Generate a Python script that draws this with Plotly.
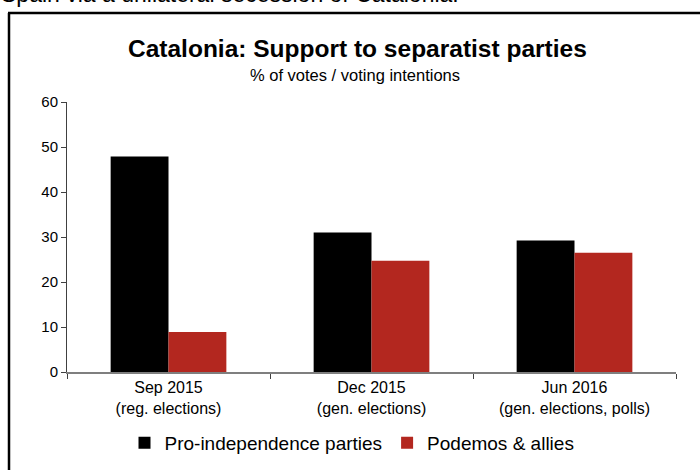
import plotly.graph_objects as go

categories = ["Sep 2015<br>(reg. elections)", "Dec 2015<br>(gen. elections)", "Jun 2016<br>(gen. elections, polls)"]
pro_independence = [47.9, 31.0, 29.2]
podemos = [8.9, 24.7, 26.5]
series_names = ["Pro-independence parties", "Podemos & allies"]
y_ticks = [0, 10, 20, 30, 40, 50, 60]

FONT = "Liberation Sans, Arial, sans-serif"

fig = go.Figure()
fig.add_trace(go.Bar(x=categories, y=pro_independence, name=series_names[0],
                     marker=dict(color="#000000", line=dict(width=0))))
fig.add_trace(go.Bar(x=categories, y=podemos, name=series_names[1],
                     marker=dict(color="#B3271F", line=dict(width=0))))

L, R, T, B = 67, 24, 102, 98
W, H = 700, 470
pw, ph = W - L - R, H - T - B

def px_x(px):
    return (px - L) / pw

def px_y(py):
    return (H - B - py) / ph

fig.update_layout(
    width=W, height=H,
    margin=dict(l=L, r=R, t=T, b=B, pad=0, autoexpand=False),
    paper_bgcolor="white", plot_bgcolor="white",
    font=dict(family=FONT, color="#000000", size=14),
    barmode="group", bargap=0.43, bargroupgap=0,
    showlegend=True,
    legend=dict(orientation="h", x=px_x(352), xanchor="center", y=px_y(443), yanchor="middle",
                font=dict(size=19, family=FONT), itemwidth=30, tracegroupgap=0,
                bgcolor="rgba(0,0,0,0)"),
    xaxis=dict(showgrid=False, showline=True, linecolor="#7f7f7f", linewidth=1.5,
               ticks="outside", tickson="boundaries", ticklen=5, tickcolor="#404040",
               tickfont=dict(size=16, family=FONT), zeroline=False),
    yaxis=dict(range=[0, 60], tickvals=y_ticks, showgrid=False, zeroline=False,
               showline=True, linecolor="#404040", linewidth=1,
               ticks="outside", ticklen=5, tickcolor="#404040",
               tickfont=dict(size=15, family=FONT)),
    annotations=[
        dict(text="<b>Catalonia: Support to separatist parties</b>", xref="paper", yref="paper",
             x=px_x(357), y=px_y(48), xanchor="center", yanchor="middle", showarrow=False,
             font=dict(size=24.5, family=FONT)),
        dict(text="% of votes / voting intentions", xref="paper", yref="paper",
             x=px_x(355), y=px_y(75), xanchor="center", yanchor="middle", showarrow=False,
             font=dict(size=16.5, family=FONT)),
        dict(text="Spain via a unilateral secession of Catalonia.", xref="paper", yref="paper",
             x=px_x(-1), y=px_y(9), xanchor="left", yanchor="bottom", showarrow=False,
             font=dict(size=23, family=FONT)),
    ],
    shapes=[
        dict(type="line", xref="paper", yref="paper", x0=px_x(9), x1=px_x(9),
             y0=px_y(13), y1=px_y(480), line=dict(color="#000000", width=2.5)),
        dict(type="line", xref="paper", yref="paper", x0=px_x(8), x1=px_x(710),
             y0=px_y(13), y1=px_y(13), line=dict(color="#000000", width=2.5)),
    ],
)

fig.write_html("out.html")
